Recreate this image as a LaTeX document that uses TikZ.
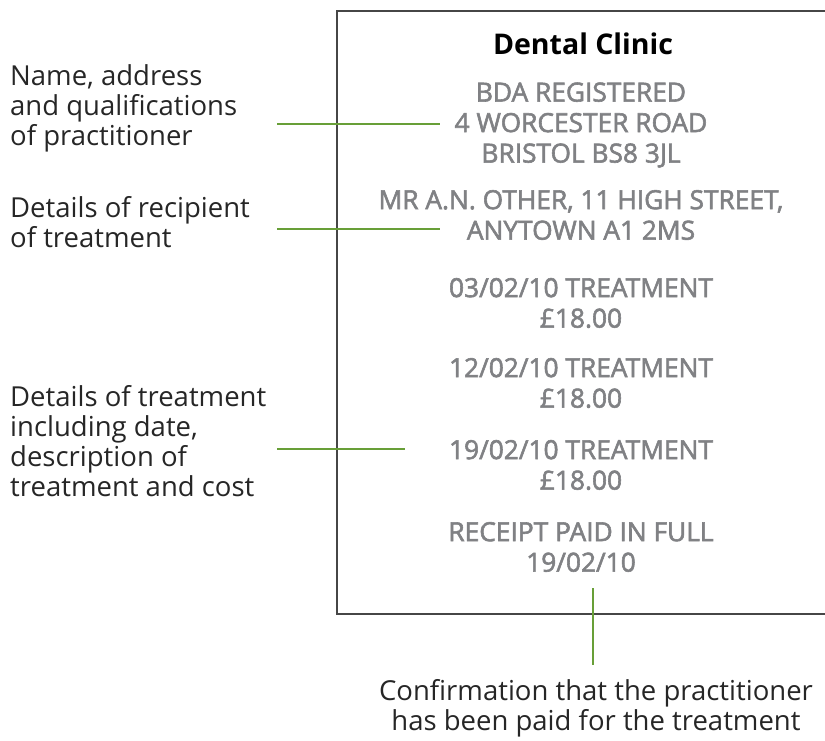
\documentclass[tikz,border=0pt]{standalone}
\usepackage{fontspec}
\setmainfont{Open Sans}
\newfontfamily\slipfont{Open Sans}[FakeBold=2.2]
\definecolor{leadgreen}{RGB}{104,159,56}
\definecolor{slipgrey}{RGB}{128,129,132}
\definecolor{framegrey}{RGB}{70,70,70}
\tikzset{
  label/.style={align=left,anchor=west,inner sep=0pt,text=black!85,
    font=\fontsize{27.5}{30}\selectfont},
  slip/.style={align=center,inner sep=0pt,text=slipgrey,
    font=\fontsize{26.3}{30.5}\slipfont},
  lead/.style={leadgreen,line width=2pt}
}
\begin{document}
\begin{tikzpicture}[x=1pt,y=-1pt]
        \useasboundingbox (0,0) rectangle (825,741);
        \clip (0,0) rectangle (825,741);
        % the receipt
        \draw[framegrey,line width=1.3pt] (840,11) -- (337,11) -- (337,614) -- (840,614);
        \node[inner sep=0pt,font=\fontsize{28.5}{30}\selectfont\bfseries] at (583,44) (title){Dental Clinic};
        \node[slip] at (581,125) (dentist){BDA REGISTERED\\4 WORCESTER ROAD\\BRISTOL BS8 3JL};
        \node[slip] at (581,215) (patient){MR A.N. OTHER, 11 HIGH STREET,\\ANYTOWN A1 2MS};
        \node[slip] at (581,303) (visit1){03/02/10 TREATMENT\\£18.00};
        \node[slip] at (581,383) (visit2){12/02/10 TREATMENT\\£18.00};
        \node[slip] at (581,465) (visit3){19/02/10 TREATMENT\\£18.00};
        \node[slip] at (581,547) (paid){RECEIPT PAID IN FULL\\19/02/10};

        % notes
        \node[label] at (10,108) (n1){Name, address\\and qualifications\\of practitioner};
        \node[label] at (10,222) (n2){Details of recipient\\of treatment};
        \node[label] at (10,441) (n3){Details of treatment\\including date,\\description of\\treatment and cost};
        \node[label,anchor=center,align=center] at (596,708) (n4){Confirmation that the practitioner\\has been paid for the treatment};

        % leader lines
        \coordinate (a1) at (277,124);
        \coordinate (b1) at (440,124);
        \coordinate (a2) at (277,229);
        \coordinate (b2) at (440,229);
        \coordinate (a3) at (277,449);
        \coordinate (b3) at (405,449);
        \coordinate (a4) at (593,588);
        \coordinate (b4) at (593,665);
        \draw[lead] (a1) -- (b1);
        \draw[lead] (a2) -- (b2);
        \draw[lead] (a3) -- (b3);
        \draw[lead] (a4) -- (b4);
      \end{tikzpicture}
\end{document}
